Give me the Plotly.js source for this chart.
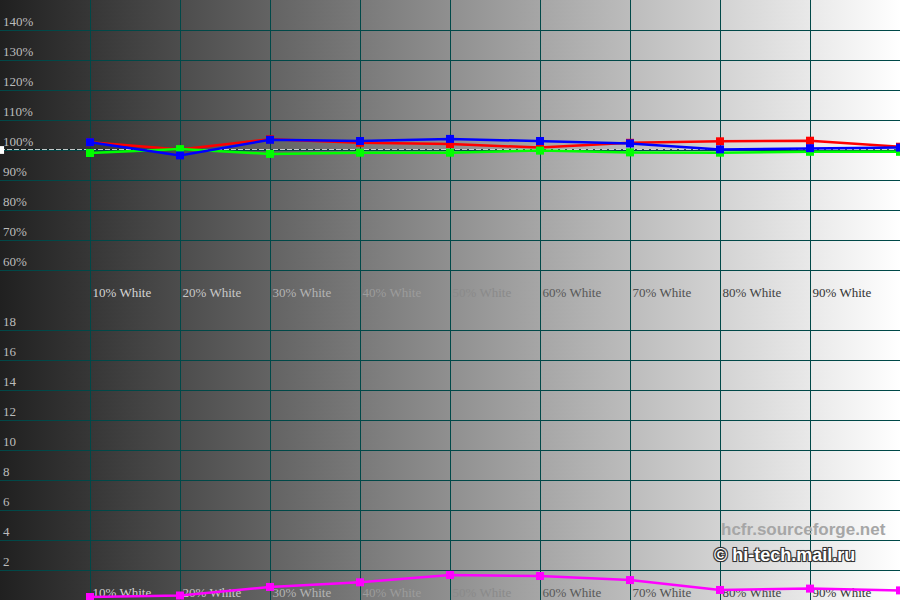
<!DOCTYPE html>
<html>
<head>
<meta charset="utf-8">
<script src="https://cdn.plot.ly/plotly-3.0.1.min.js"></script>
<style>
  html, body { margin: 0; padding: 0; }
  #chart { width: 900px; height: 600px; background: linear-gradient(to right, #202020, #ffffff); }
</style>
</head>
<body>
<div id="chart"></div>
<script>
// ---- data ----
const levels = [10, 20, 30, 40, 50, 60, 70, 80, 90, 100];
const redLevel   = [102.6, 100.2, 103.6, 102.4, 102.0, 100.8, 102.4, 102.9, 103.1, 101.1];
const greenLevel = [99.0, 100.3, 98.7, 99.1, 99.1, 99.8, 99.2, 99.1, 99.4, 99.4];
const blueLevel  = [102.6, 98.2, 103.4, 103.0, 103.7, 103.0, 102.2, 100.2, 100.6, 100.8];
const deltaE     = [0.2, 0.3, 0.87, 1.18, 1.67, 1.6, 1.33, 0.67, 0.76, 0.64];
const categoryNames = ["10% White", "20% White", "30% White", "40% White", "50% White",
                       "60% White", "70% White", "80% White", "90% White"];
const categoryPos = [10, 20, 30, 40, 50, 60, 70, 80, 90];
const topTicks = [60, 70, 80, 90, 100, 110, 120, 130, 140];
const bottomTicks = [2, 4, 6, 8, 10, 12, 14, 16, 18];
const reference = 100;

// ---- styles ----
const grid = '#004848';
const serif = '"Liberation Serif", "Times New Roman", serif';
const labelColors = ['#d4d4d4', '#c8c8c8', '#b4b4b4', '#9c9c9c', '#8a8a8a',
                     '#585858', '#505050', '#424242', '#333333'];

function series(y, color, xa, ya) {
  return {
    x: levels, y: y, xaxis: xa, yaxis: ya, type: 'scatter', mode: 'lines+markers',
    line: {color: color, width: 2.5}, marker: {symbol: 'square', size: 8, color: color},
    hoverinfo: 'skip', showlegend: false
  };
}
function labelTrace(xa, ya, yv) {
  return {
    x: categoryPos, y: categoryPos.map(() => yv), xaxis: xa, yaxis: ya,
    type: 'scatter', mode: 'text', text: categoryNames.map(t => '\u2009' + t), textposition: 'top right',
    textfont: {family: serif, size: 13, color: labelColors},
    hoverinfo: 'skip', showlegend: false, cliponaxis: false
  };
}

const traces = [
  labelTrace('x', 'y', 50),
  series(redLevel, '#ff0000', 'x', 'y'),
  series(greenLevel, '#00ff00', 'x', 'y'),
  series(blueLevel, '#0000ff', 'x', 'y'),
  labelTrace('x2', 'y2', 0),
  series(deltaE, '#ff00ff', 'x2', 'y2')
];

const xcommon = {
  range: [0, 100], tickvals: levels.concat([0]), showticklabels: false,
  showgrid: true, gridcolor: grid, gridwidth: 1, zeroline: false, showline: false, ticks: ''
};
const annotations = [];
topTicks.forEach(v => annotations.push({
  x: 0, y: v, xref: 'x', yref: 'y', text: v + '%', showarrow: false,
  xanchor: 'left', yanchor: 'bottom', xshift: 1, yshift: -1,
  font: {family: serif, size: 13, color: '#bcbcbc'}
}));
bottomTicks.forEach(v => annotations.push({
  x: 0, y: v, xref: 'x2', yref: 'y2', text: String(v), showarrow: false,
  xanchor: 'left', yanchor: 'bottom', xshift: 1, yshift: -1,
  font: {family: serif, size: 13, color: '#bcbcbc'}
}));
annotations.push({
  x: 888 / 900, y: 1 - 529 / 600, xref: 'paper', yref: 'paper', text: 'hcfr.sourceforge.net',
  showarrow: false, xanchor: 'right', yanchor: 'middle',
  font: {family: '"Liberation Sans", Arial, sans-serif', size: 17, weight: 'bold', color: '#a6a6a6'}
});
annotations.push({
  x: 857 / 900, y: 1 - 555 / 600, xref: 'paper', yref: 'paper', text: '© hi-tech.mail.ru',
  showarrow: false, xanchor: 'right', yanchor: 'middle',
  font: {family: '"Liberation Sans", Arial, sans-serif', size: 18, weight: 'bold', color: '#ffffff',
         shadow: '1px 1px 0 #333, -1px -1px 0 #333, 1px -1px 0 #333, -1px 1px 0 #333, 0 0 2px #333'}
});

const layout = {
  width: 900, height: 600,
  margin: {l: 0, r: 0, t: 0, b: 0, pad: 0},
  paper_bgcolor: 'rgba(0,0,0,0)', plot_bgcolor: 'rgba(0,0,0,0)',
  showlegend: false,
  xaxis: Object.assign({anchor: 'y'}, xcommon),
  xaxis2: Object.assign({anchor: 'y2', matches: 'x'}, xcommon),
  yaxis: {domain: [0.5, 1], range: [50, 150], tickvals: topTicks, showticklabels: false,
          showgrid: true, gridcolor: grid, gridwidth: 1, zeroline: false, showline: false, ticks: ''},
  yaxis2: {domain: [0, 0.5], range: [0, 20], tickvals: bottomTicks, showticklabels: false,
           showgrid: true, gridcolor: grid, gridwidth: 1, zeroline: false, showline: false, ticks: ''},
  shapes: [
    {type: 'line', xref: 'x', yref: 'y', x0: 0, x1: 100, y0: reference, y1: reference,
     line: {color: '#002828', width: 1.5}, layer: 'below'},
    {type: 'line', xref: 'x', yref: 'y', x0: 0, x1: 100, y0: reference, y1: reference,
     line: {color: '#ffffff', width: 1.5, dash: '5px,2px'}, layer: 'below'},
    {type: 'rect', xref: 'x', yref: 'y', x0: 0, x1: 0.45, y0: reference - 1.3, y1: reference + 1.3,
     fillcolor: '#ffffff', line: {width: 0}, layer: 'above'}
  ],
  annotations: annotations
};

Plotly.newPlot('chart', traces, layout, {displayModeBar: false, staticPlot: true});
</script>
</body>
</html>
